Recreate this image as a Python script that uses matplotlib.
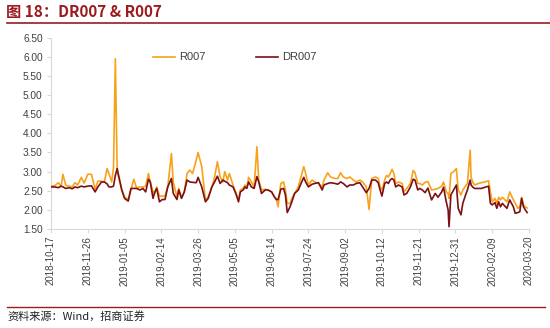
import matplotlib
matplotlib.use("Agg")
import matplotlib.pyplot as plt
import matplotlib.dates as mdates
import pandas as pd

plt.rcParams['font.family'] = ['Liberation Sans', 'Noto Sans CJK SC', 'DejaVu Sans']

# 交易日，以 2018-10-17 为起点的天数
start = pd.Timestamp('2018-10-17')
day_offsets = [
    0, 4, 8, 11, 13, 16, 20, 23, 26, 29, 33, 36, 40, 44, 48, 51, 55, 58, 61, 63,
    66, 68, 70, 72, 74, 77, 80, 84, 87, 90, 93, 97, 100, 103, 106, 108, 111, 113,
    115, 118, 121, 124, 127, 131, 133, 137, 139, 142, 145, 148, 151, 154, 158,
    160, 164, 168, 171, 175, 178, 181, 184, 187, 189, 192, 194, 198, 201, 204,
    206, 209, 211, 213, 215, 218, 221, 224, 226, 229, 233, 236, 240, 243, 245,
    247, 250, 253, 255, 257, 260, 262, 265, 269, 272, 275, 277, 280, 284, 287,
    291, 295, 297, 301, 304, 309, 312, 315, 318, 322, 325, 329, 332, 336, 339,
    343, 346, 349, 353, 356, 358, 360, 363, 365, 367, 369, 371, 373, 375, 378,
    382, 384, 387, 391, 394, 396, 399, 401, 404, 407, 410, 414, 418, 421, 425,
    427, 430, 432, 433, 435, 438, 441, 443, 446, 448, 451, 453, 456, 457, 459,
    461, 465, 468, 472, 476, 478, 480, 483, 485, 487, 489, 491, 496, 499, 503,
    505, 508, 510, 512, 514, 516, 518,
]

r007 = [
    2.62, 2.63, 2.71, 2.62, 2.93, 2.64, 2.62, 2.60, 2.71, 2.65, 2.85, 2.70, 2.93,
    2.93, 2.54, 2.75, 2.75, 2.72, 3.08, 2.95, 2.73, 3.10, 5.95, 3.00, 2.80, 2.52,
    2.34, 2.27, 2.52, 2.80, 2.58, 2.60, 2.60, 2.62, 2.95, 2.73, 2.47, 2.43, 2.60,
    2.36, 2.36, 2.36, 2.60, 3.47, 2.73, 2.34, 2.56, 2.32, 2.47, 2.95, 3.04, 2.95,
    3.30, 3.50, 3.13, 2.26, 2.34, 2.60, 2.86, 3.26, 2.86, 2.73, 3.00, 2.78, 2.95,
    2.65, 2.45, 2.27, 2.52, 2.56, 2.65, 2.60, 2.85, 2.73, 2.60, 3.65, 2.78, 2.52,
    2.54, 2.52, 2.47, 2.34, 2.30, 2.08, 2.69, 2.73, 2.52, 2.17, 2.17, 2.30, 2.43,
    2.60, 2.86, 3.13, 2.95, 2.65, 2.78, 2.73, 2.69, 2.60, 2.78, 2.97, 2.86, 2.82,
    2.82, 2.97, 2.86, 2.82, 2.86, 2.78, 2.73, 2.78, 2.73, 2.60, 2.01, 2.82, 2.86,
    2.82, 2.60, 2.52, 2.78, 2.90, 2.86, 2.95, 3.06, 2.95, 2.69, 2.73, 2.69, 2.47,
    2.56, 2.69, 3.03, 2.97, 2.69, 2.69, 2.65, 2.72, 2.74, 2.52, 2.54, 2.56, 2.62,
    2.73, 2.47, 2.43, 2.30, 2.95, 3.00, 3.08, 2.52, 2.39, 2.52, 2.62, 2.69, 3.56,
    2.86, 2.71, 2.65, 2.69, 2.71, 2.73, 2.76, 2.47, 2.21, 2.30, 2.17, 2.33, 2.26,
    2.33, 2.21, 2.47, 2.26, 2.17, 2.04, 2.08, 2.33, 2.13, 2.08, 2.05,
]

dr007 = [
    2.60, 2.60, 2.58, 2.62, 2.60, 2.56, 2.58, 2.55, 2.60, 2.58, 2.62, 2.60, 2.62,
    2.63, 2.47, 2.60, 2.73, 2.73, 2.68, 2.60, 2.60, 2.62, 2.90, 3.08, 2.85, 2.52,
    2.30, 2.23, 2.56, 2.56, 2.56, 2.52, 2.56, 2.47, 2.80, 2.73, 2.30, 2.47, 2.56,
    2.21, 2.27, 2.27, 2.60, 2.82, 2.43, 2.27, 2.52, 2.30, 2.47, 2.78, 2.73, 2.72,
    2.71, 2.85, 2.60, 2.21, 2.30, 2.60, 2.73, 2.88, 2.69, 2.78, 2.75, 2.71, 2.65,
    2.60, 2.43, 2.21, 2.47, 2.52, 2.60, 2.56, 2.73, 2.60, 2.56, 2.87, 2.73, 2.43,
    2.52, 2.52, 2.47, 2.34, 2.27, 2.27, 2.54, 2.56, 2.39, 1.93, 2.08, 2.21, 2.43,
    2.52, 2.69, 2.85, 2.73, 2.60, 2.67, 2.69, 2.71, 2.52, 2.65, 2.69, 2.71, 2.69,
    2.67, 2.73, 2.69, 2.60, 2.65, 2.65, 2.69, 2.71, 2.60, 2.45, 2.56, 2.78, 2.78,
    2.71, 2.52, 2.36, 2.69, 2.73, 2.69, 2.78, 2.82, 2.78, 2.60, 2.65, 2.60, 2.39,
    2.43, 2.60, 2.80, 2.78, 2.52, 2.56, 2.52, 2.45, 2.57, 2.26, 2.43, 2.33, 2.47,
    2.59, 2.21, 2.00, 1.56, 2.39, 2.52, 2.65, 2.04, 1.87, 2.17, 2.39, 2.52, 2.78,
    2.65, 2.59, 2.56, 2.56, 2.56, 2.59, 2.62, 2.17, 2.13, 2.19, 2.04, 2.21, 2.08,
    2.17, 2.04, 2.26, 2.08, 1.91, 1.93, 1.95, 2.30, 2.08, 2.00, 1.93,
]

dates = start + pd.to_timedelta(day_offsets, unit='D')
tick_dates = pd.date_range('2018-10-17', '2020-03-20', freq='40D')
y_ticks = [1.5, 2.0, 2.5, 3.0, 3.5, 4.0, 4.5, 5.0, 5.5, 6.0, 6.5]

title_red = '#9b1b1f'
axis_grey = '#d9d9d9'
label_grey = '#404040'

fig = plt.figure(figsize=(5.5, 3.28), dpi=100)
ax = fig.add_axes([51 / 550, 1 - 229 / 328, (529 - 51) / 550, (229 - 37.7) / 328])

ax.plot(dates, r007, color='#f7a21b', lw=1.2, label='R007', zorder=3)
ax.plot(dates, dr007, color='#7d1015', lw=1.2, label='DR007', zorder=4)

ax.set_xlim(tick_dates[0], tick_dates[-1])
ax.set_ylim(1.5, 6.5)
ax.set_yticks(y_ticks)
ax.set_yticklabels([f'{v:.2f}' for v in y_ticks])
ax.set_xticks(tick_dates)
ax.xaxis.set_major_formatter(mdates.DateFormatter('%Y-%m-%d'))
ax.tick_params(axis='x', labelrotation=90, labelsize=7, colors=axis_grey,
               labelcolor=label_grey, length=3, width=0.8, pad=2)
ax.tick_params(axis='y', labelsize=7.3, colors=axis_grey,
               labelcolor=label_grey, length=3, width=0.8, pad=3)
for side in ('top', 'right'):
    ax.spines[side].set_visible(False)
for side in ('left', 'bottom'):
    ax.spines[side].set_color(axis_grey)
    ax.spines[side].set_linewidth(0.8)

ax.legend(loc='upper left', bbox_to_anchor=(0.192, 0.975), ncol=2, frameon=False,
          fontsize=8, handlelength=2.0, handletextpad=0.4, columnspacing=4.5,
          labelcolor=label_grey)

# 标题与上下分隔线
fig.text(6 / 550, 1 - 12 / 328, '图 18：DR007 & R007', color=title_red,
         fontsize=11, fontweight='bold', va='center', ha='left',
         family=['Noto Sans CJK SC', 'DejaVu Sans'])
fig.add_artist(plt.Line2D([7 / 550, 1.0], [1 - 22.5 / 328] * 2,
                          color=title_red, lw=1.2))
fig.add_artist(plt.Line2D([7 / 550, 545 / 550], [1 - 307 / 328] * 2,
                          color=title_red, lw=1.0))
fig.text(7 / 550, 1 - 316 / 328, '资料来源：Wind，招商证券', color='#222222',
         fontsize=8, va='center', ha='left',
         family=['Noto Sans CJK SC', 'DejaVu Sans'])

fig.savefig('out.png', dpi=100)
